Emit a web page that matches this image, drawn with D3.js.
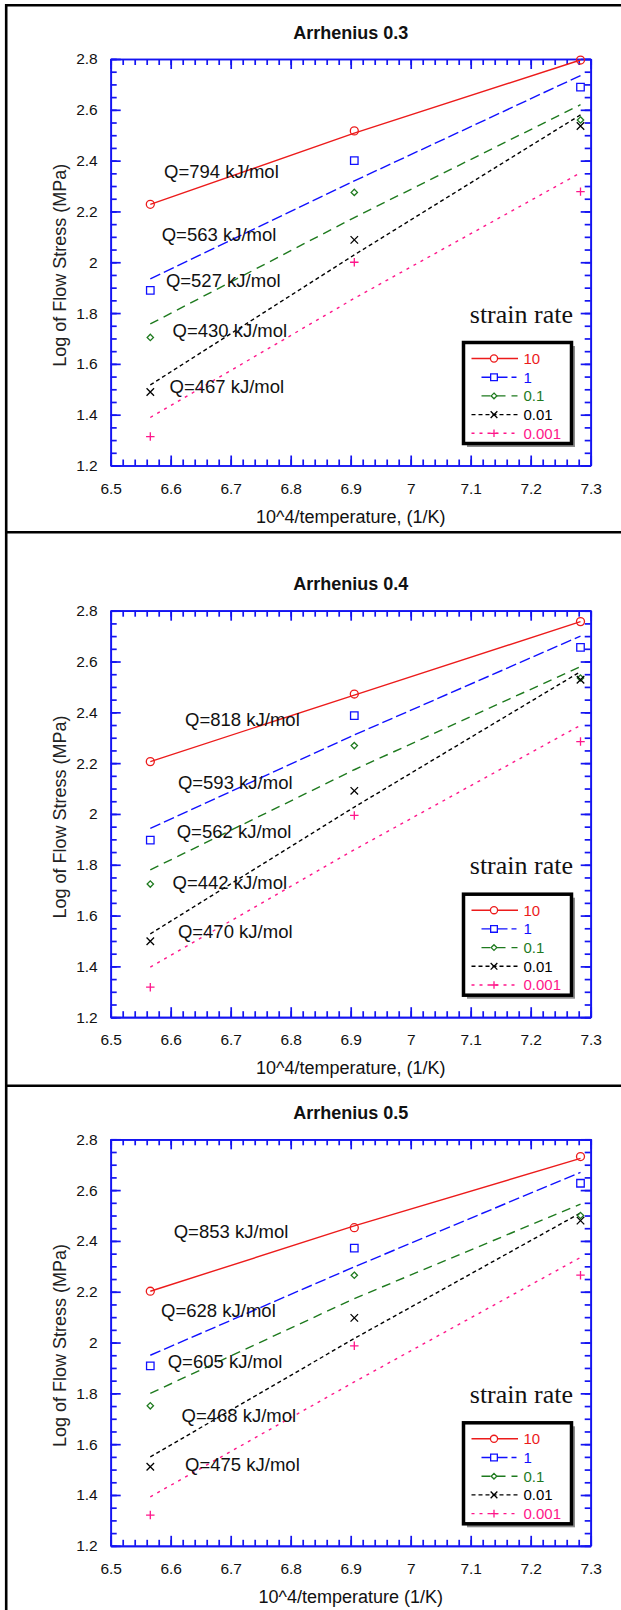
<!DOCTYPE html>
<html>
<head>
<meta charset="utf-8">
<script src="https://cdn.jsdelivr.net/npm/d3@7"></script>
<style>
  body { margin: 0; background: #fff; }
  svg { display: block; }
</style>
</head>
<body>
<div id="chart"></div>
<script>
// 10^4/T of the three test temperatures
const invTemp = [6.566, 6.906, 7.283];
const strainRates = ["10", "1", "0.1", "0.01", "0.001"];
const xTickValues = [6.5, 6.6, 6.7, 6.8, 6.9, 7.0, 7.1, 7.2, 7.3];
const yTickValues = [1.2, 1.4, 1.6, 1.8, 2.0, 2.2, 2.4, 2.6, 2.8];
const panelTitles = ["Arrhenius 0.3", "Arrhenius 0.4", "Arrhenius 0.5"];
const xAxisLabels = [
  "10^4/temperature, (1/K)",
  "10^4/temperature, (1/K)",
  "10^4/temperature (1/K)",
];

// strain 0.3: measured log stress (rows = strain rates, cols = invTemp)
const measured03 = [
  [2.228, 2.517, 2.796],
  [1.889, 2.4, 2.689],
  [1.704, 2.275, 2.56],
  [1.489, 2.088, 2.536],
  [1.314, 2.0, 2.278],
];
const fitted03 = [
  [2.228, 2.508, 2.796],
  [1.935, 2.32, 2.735],
  [1.757, 2.176, 2.62],
  [1.517, 2.029, 2.58],
  [1.389, 1.858, 2.352],
];
const qValues03 = [794, 563, 527, 430, 467];
const qAnchors03 = [[6.589, 2.333], [6.585, 2.084], [6.592, 1.904], [6.603, 1.707], [6.598, 1.484]];

// strain 0.4
const measured04 = [
  [2.206, 2.472, 2.757],
  [1.897, 2.387, 2.656],
  [1.724, 2.269, 2.535],
  [1.499, 2.091, 2.528],
  [1.318, 1.994, 2.285],
];
const fitted04 = [
  [2.206, 2.468, 2.757],
  [1.943, 2.311, 2.7],
  [1.78, 2.174, 2.58],
  [1.528, 2.027, 2.56],
  [1.397, 1.859, 2.349],
];
const qValues04 = [818, 593, 562, 442, 470];
const qAnchors04 = [[6.624, 2.347], [6.612, 2.098], [6.61, 1.907], [6.603, 1.705], [6.612, 1.511]];

// strain 0.5
const measured05 = [
  [2.202, 2.452, 2.732],
  [1.908, 2.372, 2.627],
  [1.751, 2.265, 2.5],
  [1.511, 2.097, 2.48],
  [1.321, 1.987, 2.265],
];
const fitted05 = [
  [2.202, 2.459, 2.725],
  [1.95, 2.298, 2.67],
  [1.8, 2.173, 2.545],
  [1.55, 2.016, 2.51],
  [1.393, 1.845, 2.335],
];
const qValues05 = [853, 628, 605, 468, 475];
const qAnchors05 = [[6.605, 2.413], [6.584, 2.102], [6.595, 1.899], [6.618, 1.688], [6.624, 1.496]];

const panels = [
  { title: panelTitles[0], xLabel: xAxisLabels[0], measured: measured03, fitted: fitted03, q: qValues03, qAt: qAnchors03 },
  { title: panelTitles[1], xLabel: xAxisLabels[1], measured: measured04, fitted: fitted04, q: qValues04, qAt: qAnchors04 },
  { title: panelTitles[2], xLabel: xAxisLabels[2], measured: measured05, fitted: fitted05, q: qValues05, qAt: qAnchors05 },
];

// thin stroked marker shapes
const symbolX = {
  draw(ctx, size) {
    const r = Math.sqrt(size) / 2;
    ctx.moveTo(-r, -r); ctx.lineTo(r, r);
    ctx.moveTo(-r, r); ctx.lineTo(r, -r);
  },
};
const symbolP = {
  draw(ctx, size) {
    const r = Math.sqrt(size) / 2;
    ctx.moveTo(-r, 0); ctx.lineTo(r, 0);
    ctx.moveTo(0, -r); ctx.lineTo(0, r);
  },
};
const symbolSq = {
  draw(ctx, size) {
    const r = Math.sqrt(size) / 2;
    ctx.rect(-r, -r, 2 * r, 2 * r);
  },
};
const symbolDi = {
  draw(ctx, size) {
    const r = Math.sqrt(size) / 2;
    ctx.moveTo(0, -r); ctx.lineTo(r, 0); ctx.lineTo(0, r); ctx.lineTo(-r, 0); ctx.closePath();
  },
};

// legend sample line ends are per row (x1, x2 inside the box)
const seriesStyle = [
  { color: "#ec1b1b", dash: null, symbol: d3.symbolCircle, size: 50, lx: [8, 54.5] },
  { color: "#1010ff", dash: "11,4", symbol: symbolSq, size: 56, lx: [18, 53] },
  { color: "#1e7a1e", dash: "9,6", symbol: symbolDi, size: 40, lx: [18, 54] },
  { color: "#000000", dash: "4,3", symbol: symbolX, size: 56, lx: [8, 56] },
  { color: "#ff168a", dash: "3,5", symbol: symbolP, size: 72, lx: [8, 56] },
];

const W = 621, H = 1610;
const plotLeft = 110.7, plotW = 480, plotH = 406.5;
const plotTops = [59, 610.7, 1139.3];
const axisColor = "#1414f2";
const sans = '"Liberation Sans", Arial, sans-serif';

const x = d3.scaleLinear().domain([6.5, 7.3]).range([0, plotW]);
const y = d3.scaleLinear().domain([1.2, 2.8]).range([plotH, 0]);

const svg = d3.select("#chart").append("svg")
  .attr("width", W).attr("height", H)
  .attr("font-family", sans);

// outer frame and panel dividers
const frame = svg.append("g").attr("stroke", "#000").attr("stroke-width", 2.6).attr("fill", "none");
frame.append("line").attr("x1", 6.2).attr("x2", W).attr("y1", 5.2).attr("y2", 5.2);
frame.append("line").attr("x1", 6.2).attr("x2", 6.2).attr("y1", 4).attr("y2", H);
frame.append("line").attr("x1", 6.2).attr("x2", W).attr("y1", 532.3).attr("y2", 532.3);
frame.append("line").attr("x1", 6.2).attr("x2", W).attr("y1", 1085.7).attr("y2", 1085.7);

function styleAxis(sel) {
  sel.selectAll(".domain, .tick line").attr("stroke", axisColor).attr("stroke-width", 1.7);
  sel.attr("font-family", sans).attr("font-size", 15.5);
  sel.selectAll("text").attr("fill", "#111");
}

function drawAxes(g) {
  const xMinor = d3.range(41).map((i) => 6.5 + i * 0.02);
  const yMinor = d3.range(33).map((i) => 1.2 + i * 0.05);

  // minor ticks on all four sides
  g.append("g").attr("transform", `translate(0,${plotH})`)
    .call(d3.axisBottom(x).tickValues(xMinor).tickSize(-6).tickSizeOuter(0).tickFormat(""))
    .call(styleAxis);
  g.append("g")
    .call(d3.axisTop(x).tickValues(xMinor).tickSize(-6).tickSizeOuter(0).tickFormat(""))
    .call(styleAxis);
  g.append("g")
    .call(d3.axisLeft(y).tickValues(yMinor).tickSize(-6).tickSizeOuter(0).tickFormat(""))
    .call(styleAxis);
  g.append("g").attr("transform", `translate(${plotW},0)`)
    .call(d3.axisRight(y).tickValues(yMinor).tickSize(-6).tickSizeOuter(0).tickFormat(""))
    .call(styleAxis);

  // major ticks + labels
  g.append("g").attr("transform", `translate(0,${plotH})`)
    .call(d3.axisBottom(x).tickValues(xTickValues).tickSize(-10).tickSizeOuter(0)
      .tickPadding(17).tickFormat(d3.format("~g")))
    .call(styleAxis);
  g.append("g")
    .call(d3.axisTop(x).tickValues(xTickValues).tickSize(-10).tickSizeOuter(0).tickFormat(""))
    .call(styleAxis);
  g.append("g")
    .call(d3.axisLeft(y).tickValues(yTickValues).tickSize(-10).tickSizeOuter(0)
      .tickPadding(13).tickFormat(d3.format("~g")))
    .call(styleAxis);
  g.append("g").attr("transform", `translate(${plotW},0)`)
    .call(d3.axisRight(y).tickValues(yTickValues).tickSize(-10).tickSizeOuter(0).tickFormat(""))
    .call(styleAxis);
}

function drawLegend(g) {
  g.append("text")
    .attr("x", 462.3).attr("y", 263.5)
    .attr("text-anchor", "end")
    .attr("font-family", '"Liberation Serif", "Times New Roman", serif')
    .attr("font-size", 26).attr("fill", "#111")
    .text("strain rate");

  const lg = g.append("g").attr("transform", "translate(352.8,283.5)");
  lg.append("rect").attr("x", 3.5).attr("y", 3.5).attr("width", 108).attr("height", 101)
    .attr("fill", "#8c8c8c");
  lg.append("rect").attr("width", 108).attr("height", 101)
    .attr("fill", "#fff").attr("stroke", "#000").attr("stroke-width", 3.5);

  const rows = lg.selectAll("g.row").data(strainRates).enter().append("g")
    .attr("class", "row")
    .attr("transform", (d, i) => `translate(0,${16 + i * 18.7})`);

  rows.append("line")
    .attr("x1", (d, i) => seriesStyle[i].lx[0])
    .attr("x2", (d, i) => seriesStyle[i].lx[1])
    .attr("stroke", (d, i) => seriesStyle[i].color)
    .attr("stroke-width", 1.4)
    .attr("stroke-dasharray", (d, i) => seriesStyle[i].dash);
  rows.append("path")
    .attr("transform", "translate(30.5,0)")
    .attr("d", (d, i) => d3.symbol(seriesStyle[i].symbol, seriesStyle[i].size * 0.8)())
    .attr("fill", "#fff")
    .attr("stroke", (d, i) => seriesStyle[i].color)
    .attr("stroke-width", 1.3);
  rows.append("text")
    .attr("x", 60).attr("dy", "0.36em")
    .attr("font-size", 15)
    .attr("fill", (d, i) => seriesStyle[i].color)
    .text((d) => d);
}

function drawPanel(panel, top) {
  const g = svg.append("g").attr("transform", `translate(${plotLeft},${top})`);

  // title
  g.append("text")
    .attr("x", plotW / 2).attr("y", -20.5)
    .attr("text-anchor", "middle")
    .attr("font-weight", "bold").attr("font-size", 18).attr("fill", "#111")
    .text(panel.title);

  drawAxes(g);

  // axis titles
  g.append("text")
    .attr("x", plotW / 2).attr("y", plotH + 57)
    .attr("text-anchor", "middle").attr("font-size", 18).attr("fill", "#111")
    .text(panel.xLabel);
  g.append("text")
    .attr("transform", `translate(${65.5 - plotLeft},${plotH / 2 + 3}) rotate(-90)`)
    .attr("text-anchor", "middle").attr("font-size", 18).attr("fill", "#222")
    .text("Log of Flow Stress (MPa)");

  // fitted Arrhenius lines
  const line = d3.line().x((d, i) => x(invTemp[i])).y((d) => y(d));
  g.selectAll("path.fit").data(panel.fitted).enter().append("path")
    .attr("class", "fit")
    .attr("d", line)
    .attr("fill", "none")
    .attr("stroke", (d, i) => seriesStyle[i].color)
    .attr("stroke-width", 1.4)
    .attr("stroke-dasharray", (d, i) => seriesStyle[i].dash);

  // measured points
  panel.measured.forEach((row, s) => {
    g.selectAll(null).data(row).enter().append("path")
      .attr("transform", (d, i) => `translate(${x(invTemp[i])},${y(d)})`)
      .attr("d", d3.symbol(seriesStyle[s].symbol, seriesStyle[s].size)())
      .attr("fill", "none")
      .attr("stroke", seriesStyle[s].color)
      .attr("stroke-width", 1.3);
  });

  // activation energy labels
  g.selectAll("text.q").data(panel.q).enter().append("text")
    .attr("class", "q")
    .attr("x", (d, i) => x(panel.qAt[i][0]))
    .attr("y", (d, i) => y(panel.qAt[i][1]))
    .attr("font-size", 18.5).attr("fill", "#111")
    .text((d) => `Q=${d} kJ/mol`);

  drawLegend(g);
}

panels.forEach((p, i) => drawPanel(p, plotTops[i]));
</script>
</body>
</html>
